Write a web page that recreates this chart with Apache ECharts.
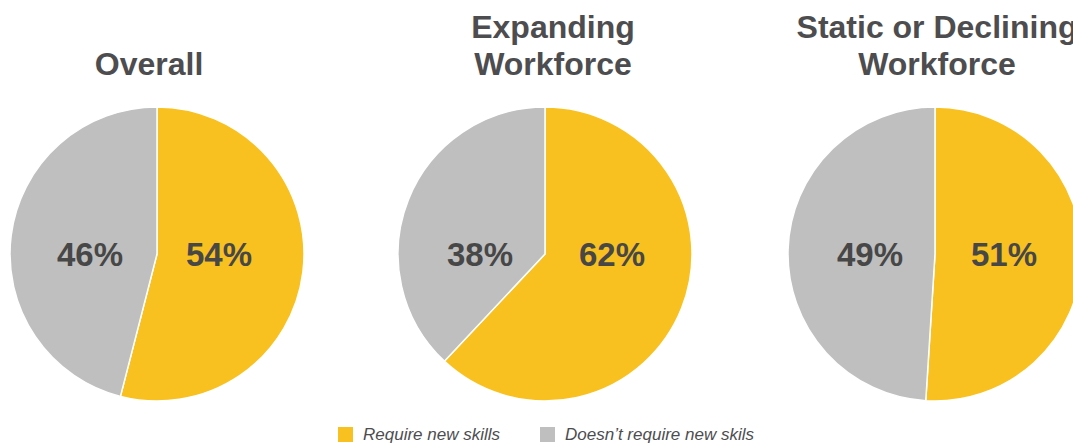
<!DOCTYPE html>
<html>
<head>
<meta charset="utf-8">
<script src="https://cdn.jsdelivr.net/npm/echarts@6/dist/echarts.min.js"></script>
<style>
  html, body { margin: 0; padding: 0; background: #ffffff; }
  #chart { width: 1073px; height: 443px; }
</style>
</head>
<body>
<div id="chart"></div>
<script>
// Share of employers, per workforce outlook
const groupTitles = ['Overall', 'Expanding\nWorkforce', 'Static or Declining\nWorkforce'];
const requireNewSkills = [54, 62, 51];
const noNewSkills = [46, 38, 49];
const sliceNames = ['Require new skills', 'Doesn\u2019t require new skils'];

const YELLOW = '#F9C11F';
const GREY = '#BFBFBF';
const INK = '#4D4D4F';
const FONT = '"Liberation Sans", Arial, sans-serif';

// Layout of the three pies
const centersX = [157, 545, 935];
const titleX = [149, 553, 937];
const centerY = 254;
const radius = 147;
// horizontal label offsets from each pie's centre: [grey side, yellow side]
const labelOffsets = [[-67, 62], [-65, 67], [-65, 69]];

const chart = echarts.init(document.getElementById('chart'), null, { renderer: 'svg' });

const series = groupTitles.map((title, i) => ({
  type: 'pie',
  name: title.replace('\n', ' '),
  center: [centersX[i], centerY],
  radius: [0, radius],
  startAngle: 90,
  clockwise: true,
  animation: false,
  silent: true,
  avoidLabelOverlap: false,
  itemStyle: { borderColor: '#ffffff', borderWidth: 1.5 },
  label: {
    show: true,
    position: 'inside',
    formatter: '{c}%',
    fontFamily: FONT,
    fontSize: 33,
    fontWeight: 'bold',
    color: '#474747'
  },
  labelLine: { show: false },
  labelLayout: function (p) {
    const off = labelOffsets[p.seriesIndex][p.dataIndex === 0 ? 1 : 0];
    return { x: centersX[p.seriesIndex] + off, y: centerY + 0.5, align: 'center', verticalAlign: 'middle' };
  },
  data: [
    { name: sliceNames[0], value: requireNewSkills[i], itemStyle: { color: YELLOW } },
    { name: sliceNames[1], value: noNewSkills[i], itemStyle: { color: GREY } }
  ]
}));

const titles = groupTitles.map((t, i) => ({
  type: 'text',
  x: titleX[i],
  y: t.indexOf('\n') >= 0 ? 8 : 45,
  silent: true,
  style: {
    text: t,
    fill: INK,
    font: 'bold 32px ' + FONT,
    lineHeight: 37,
    align: 'center',
    verticalAlign: 'top'
  }
}));

chart.setOption({
  backgroundColor: '#ffffff',
  animation: false,
  graphic: titles,
  legend: {
    data: sliceNames,
    left: 336,
    top: 425,
    padding: 0,
    itemWidth: 17,
    itemHeight: 17,
    itemGap: 38,
    icon: 'rect',
    selectedMode: false,
    textStyle: {
      fontFamily: FONT,
      fontSize: 17,
      fontStyle: 'italic',
      color: INK,
      padding: [0, 0, 0, 4]
    }
  },
  series: series
});
</script>
</body>
</html>
